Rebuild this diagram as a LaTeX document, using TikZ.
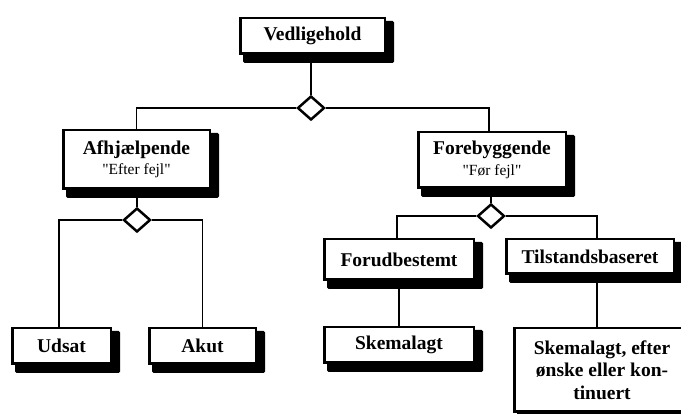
\documentclass[tikz,border=0pt]{standalone}
\usepackage{fontspec}
\setmainfont{Liberation Serif}
\newfontfamily\subfont{Liberation Serif}[Ligatures=TeXOff]
\usetikzlibrary{shapes.geometric,backgrounds}
\tikzset{
  box/.style={draw=black, line width=2.5pt, fill=white, inner sep=0pt, align=center,
    font=\fontsize{19.5}{22.5}\selectfont\bfseries},
  gate/.style={draw=black, line width=2.5pt, fill=white, shape=diamond, inner sep=0pt,
    minimum width=27pt, minimum height=24pt},
  conn/.style={draw=black, line width=1.6pt},
  shade/.style={fill=black, rounded corners=1.5pt}
}
\begin{document}
\begin{tikzpicture}[x=1pt,y=-1pt]
\useasboundingbox (0,0) rectangle (681,414);
% boxes
\node[box, minimum width=144.5pt, minimum height=35.5pt] (ved) at (312.5,36) {Vedligehold};
\node[box, minimum width=146.5pt, minimum height=58.5pt] (afh) at (136.5,159.5) {Afhjælpende\\[-2pt]{\subfont\fontsize{15.5}{17}\selectfont\mdseries "Efter fejl"}};
\node[box, minimum width=147.5pt, minimum height=55.5pt] (fore) at (492,160) {Forebyggende\\[-2pt]{\subfont\fontsize{15.5}{17}\selectfont\mdseries "Før fejl"}};
\node[box, minimum width=98.5pt, minimum height=35.5pt] (udsat) at (61.5,346) {Udsat};
\node[box, minimum width=106.5pt, minimum height=35.5pt] (akut) at (202.5,346) {Akut};
\node[box, minimum width=149.5pt, minimum height=40.5pt] (forud) at (399,259.5) {Forudbestemt};
\node[box, minimum width=149.5pt, minimum height=35.5pt] (skema) at (399,345) {Skemalagt};
\node[box, minimum width=167.5pt, minimum height=34.5pt] (tils) at (590,256.5) {Tilstandsbaseret};
\node[box, minimum width=175.5pt, minimum height=83.5pt] (last) at (602,370) {Skemalagt, efter\\ønske eller kon-\\tinuert};
% diamonds
\node[gate] (d1) at (311,108) {};
\node[gate] (d2) at (137,220) {};
\node[gate] (d3) at (491,216) {};
% shadows and connectors behind
\begin{scope}[on background layer]
  \foreach \n in {ved,afh,fore,udsat,akut,forud,skema,tils,last}{
    \fill[shade] ([shift={(4,4)}]\n.north west) rectangle ([shift={(8,8)}]\n.south east);
  }
  \draw[conn] (d1.north) -- (d1.north |- ved.south);
  \draw[conn] (d1.west) -| (afh.north);
  \draw[conn] (d1.east) -| ([xshift=-3pt]fore.north);
  \draw[conn] (d2.north) -- (d2.north |- afh.south);
  \draw[conn] (d2.west) -| ([xshift=-2.5pt]udsat.north);
  \draw[conn] (d2.east) -| (akut.north);
  \draw[conn] (d3.north) -- (d3.north |- fore.south);
  \draw[conn] (d3.west) -| ([xshift=-2pt]forud.north);
  \draw[conn] (d3.east) -| ([xshift=7pt]tils.north);
  \draw[conn] (forud.south) -- (skema.north);
  \draw[conn] ([xshift=7pt]tils.south) -- ([xshift=7pt]tils.south |- last.north);
\end{scope}
\end{tikzpicture}
\end{document}
